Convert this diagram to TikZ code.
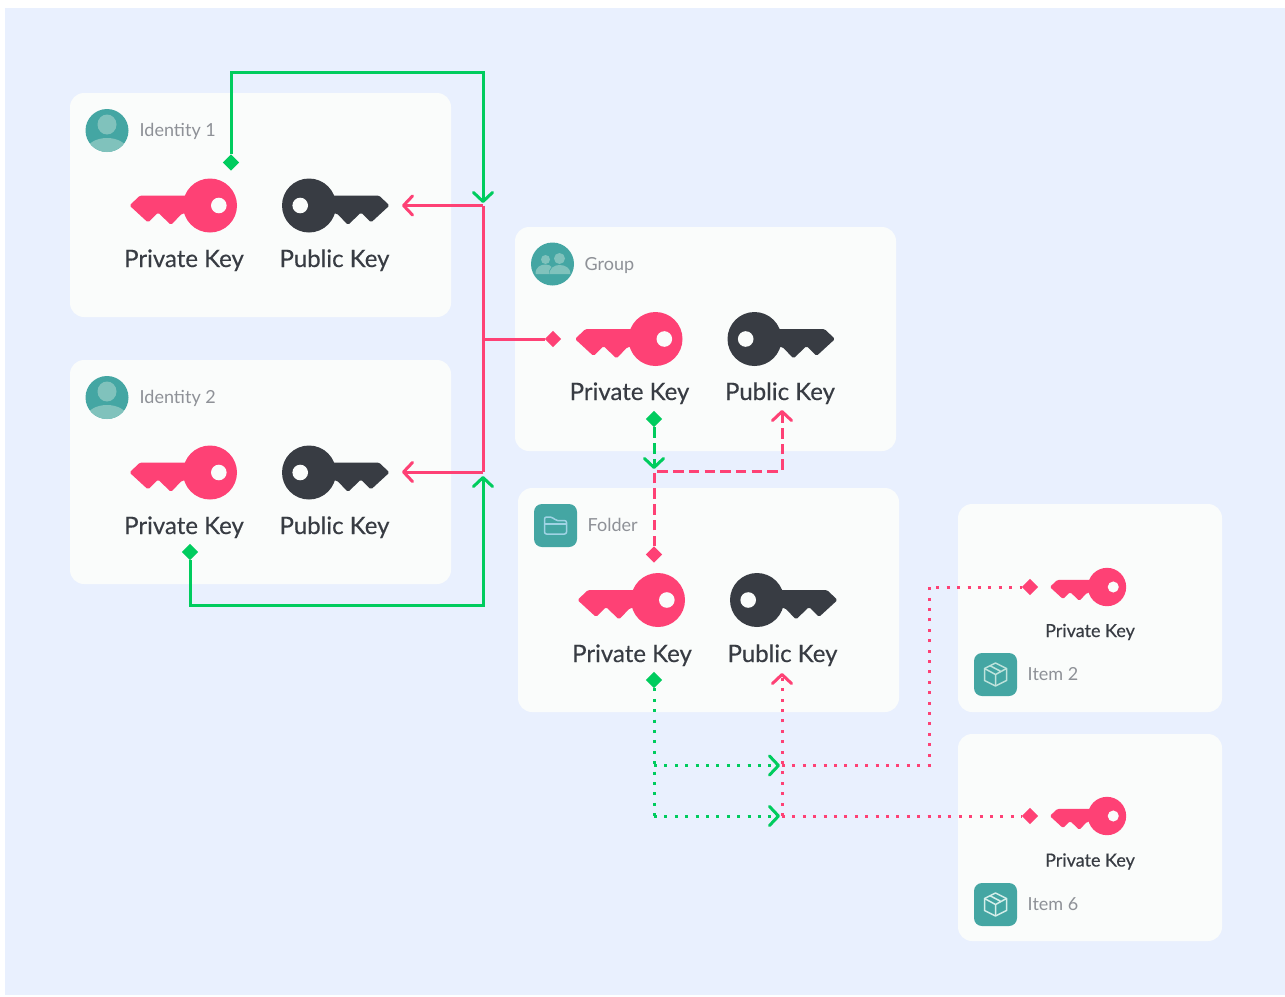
\documentclass[tikz,border=0pt]{standalone}
\usepackage{fontspec}
\setmainfont{Lato}
\newfontfamily\keyfont[FakeBold=0.35]{Lato}
\usetikzlibrary{arrows.meta,shapes.geometric,calc}
\definecolor{pagebg}{HTML}{E9F0FE}
\definecolor{cardbg}{HTML}{FAFCFB}
\definecolor{hotpink}{HTML}{FE4175}
\definecolor{inkdark}{HTML}{383C43}
\definecolor{greyink}{HTML}{8E9197}
\definecolor{teal}{HTML}{44A6A3}
\definecolor{teallight}{HTML}{80C2BC}
\definecolor{signgreen}{HTML}{00CC5E}
\definecolor{iconblue}{HTML}{9FD3E4}
\definecolor{iconpale}{HTML}{BFE3DC}
\definecolor{iconpaler}{HTML}{D5EEEA}
\tikzset{
  card/.style={fill=cardbg,rounded corners=14pt,draw=none},
  keytext/.style={anchor=base,inner sep=0pt,text=inkdark,font=\keyfont\fontsize{24}{26}\selectfont},
  keytextsmall/.style={anchor=base,inner sep=0pt,text=inkdark,font=\keyfont\fontsize{18}{20}\selectfont},
  tagtext/.style={anchor=base west,inner sep=0pt,text=greyink,font=\fontsize{18}{20}\selectfont},
  gemgreen/.style={diamond,aspect=1,fill=signgreen,inner sep=0pt,minimum size=16.5pt},
  gempink/.style={diamond,aspect=1,fill=hotpink,inner sep=0pt,minimum size=16.5pt},
  wire/.style={line width=3pt,line join=miter},
  chev/.style={-{Straight Barb[length=9pt,width=19pt,line width=3pt,round]}},
  greenwire/.style={wire,draw=signgreen},
  pinkwire/.style={wire,draw=hotpink},
  dash1/.style={dash pattern=on 10.5pt off 5.2pt},
  dot1/.style={dash pattern=on 3pt off 7.4pt},
  keyshape/.pic={
    \fill[pic actions,rounded corners=1.5pt] (-80.5,0) -- (-70,-10) -- (-10,-10) -- (-10,8) -- (-28,8) -- (-39,19.5) -- (-52,7) -- (-62,17) -- cycle;
    \fill[pic actions] (0,0) circle[radius=27pt];
    \fill[cardbg] (8.8,0) circle[radius=7.8pt];
  },
  avatarperson/.pic={
    \fill[teal] (0,0) circle[radius=21.5pt];
    \begin{scope}
      \clip (0,0) circle[radius=21.5pt];
      \fill[teallight] (0,-6) ellipse[x radius=9.5pt,y radius=10pt];
      \fill[teallight] (0,21) ellipse[x radius=21pt,y radius=13.5pt];
    \end{scope}
  },
  avatargroup/.pic={
    \fill[teal] (0,0) circle[radius=21.5pt];
    \fill[teallight] (-7,-4.5) circle[radius=4.5pt];
    \fill[teallight] (7,-5.5) circle[radius=5.5pt];
    \fill[teallight] (-17,10) .. controls (-17,3) and (-12,0.5) .. (-7,0.5) .. controls (-4,0.5) and (-2,1.5) .. (-1,3) .. controls (-3,5) and (-4,7) .. (-3,10) -- cycle;
    \fill[teallight] (-3,10) .. controls (-3,4) and (2,1) .. (7,1) .. controls (13,1) and (18,4) .. (18,10) -- cycle;
  },
  foldericon/.pic={
    \fill[teal,rounded corners=8pt] (-21.5,-21.5) rectangle (21.5,21.5);
    \draw[draw=#1,line width=1.5pt,rounded corners=2pt,line join=round] (-11,8.5) -- (-11,-8.5) -- (-3,-8.5) -- (0,-5) -- (11,-5) -- (11,8.5) -- cycle;
    \draw[draw=#1,line width=1.5pt] (-11,-1.5) -- (11,-1.5);
  },
  boxicon/.pic={
    \fill[teal,rounded corners=8pt] (-21.5,-21.5) rectangle (21.5,21.5);
    \draw[draw=#1,line width=1.5pt,line join=round] (0,-11.5) -- (11,-6) -- (11,6) -- (0,11.5) -- (-11,6) -- (-11,-6) -- cycle;
    \draw[draw=#1,line width=1.5pt,line join=round] (-11,-6) -- (0,0) -- (11,-6) (0,0) -- (0,11.5) (-5.5,-8.8) -- (5.5,-3);
  },
}
\begin{document}
\begin{tikzpicture}[x=1pt,y=-1pt]
\useasboundingbox (0,0) rectangle (1285,996);
\fill[white] (0,0) rectangle (1285,996);
\fill[pagebg] (5,8) rectangle (1285,995);

% cards
\node[card,minimum width=381pt,minimum height=224pt,inner sep=0pt] (cardA) at (260.5,205) {};
\node[card,minimum width=381pt,minimum height=224pt,inner sep=0pt] (cardB) at (260.5,472) {};
\node[card,minimum width=381pt,minimum height=224pt,inner sep=0pt] (cardG) at (705.5,339) {};
\node[card,minimum width=381pt,minimum height=224pt,inner sep=0pt] (cardF) at (708.5,600) {};
\node[card,minimum width=264pt,minimum height=208pt,inner sep=0pt] (cardI) at (1090,608) {};
\node[card,minimum width=264pt,minimum height=207pt,inner sep=0pt] (cardJ) at (1090,837.5) {};

% icons and tags
\pic at (107,130.5) {avatarperson};
\pic at (107,397.5) {avatarperson};
\pic at (552.5,264) {avatargroup};
\pic at (555.5,525.5) {foldericon={iconblue}};
\pic at (995.5,674.5) {boxicon={iconpale}};
\pic at (995.5,904.5) {boxicon={iconpaler}};
\node[tagtext] (tagA) at (139.5,136) {Identity 1};
\node[tagtext] (tagB) at (139.5,403) {Identity 2};
\node[tagtext] (tagG) at (584.5,270) {Group};
\node[tagtext] (tagF) at (587.5,531) {Folder};
\node[tagtext] (tagI) at (1027.5,680) {Item 2};
\node[tagtext] (tagJ) at (1027.5,910) {Item 6};

% keys
\pic[fill=hotpink] at (210,205.5) {keyshape};
\pic[fill=inkdark,xscale=-1] at (309,205.5) {keyshape};
\pic[fill=hotpink] at (210,472.5) {keyshape};
\pic[fill=inkdark,xscale=-1] at (309,472.5) {keyshape};
\pic[fill=hotpink] at (655.5,339) {keyshape};
\pic[fill=inkdark,xscale=-1] at (754.5,339) {keyshape};
\pic[fill=hotpink] at (658,600) {keyshape};
\pic[fill=inkdark,xscale=-1] at (757,600) {keyshape};
\pic[fill=hotpink,scale=.71] at (1107,587) {keyshape};
\pic[fill=hotpink,scale=.71] at (1107,816) {keyshape};

\node[keytext] (pkA) at (184,267) {Private Key};
\node[keytext] (ukA) at (334.5,267) {Public Key};
\node[keytext] (pkB) at (184,534) {Private Key};
\node[keytext] (ukB) at (334.5,534) {Public Key};
\node[keytext] (pkG) at (629.5,400) {Private Key};
\node[keytext] (ukG) at (780,400) {Public Key};
\node[keytext] (pkF) at (632,662) {Private Key};
\node[keytext] (ukF) at (782.5,662) {Public Key};
\node[keytextsmall] (pkI) at (1090,637) {Private Key};
\node[keytextsmall] (pkJ) at (1090,866.5) {Private Key};

% connector ends
\node[gemgreen] (gA) at (231,162.5) {};
\node[gemgreen] (gB) at (190,552) {};
\node[gempink] (rG) at (553,339) {};
\node[gemgreen] (gG) at (654,419) {};
\node[gempink] (rF) at (654,554.5) {};
\node[gemgreen] (gF) at (654,680) {};
\node[gempink] (rI) at (1030,587) {};
\node[gempink] (rJ) at (1030,816) {};

\coordinate (topL) at (231,72);
\coordinate (topR) at (483,72);
\coordinate (inA) at (483,203);
\coordinate (botL) at (190,605);
\coordinate (botR) at (483,605);
\coordinate (inB) at (483,476);
\coordinate (busA) at (483,205.5);
\coordinate (busM) at (483,339);
\coordinate (busB) at (483,472);
\coordinate (pubA) at (402,205.5);
\coordinate (pubB) at (402,472);
\coordinate (gDrop) at (654,469);
\coordinate (fBend) at (654,471);
\coordinate (gBend) at (782,471);
\coordinate (pubG) at (782,410);
\coordinate (dotA) at (654,765.5);
\coordinate (dotB) at (654,816);
\coordinate (tipA) at (780,765.5);
\coordinate (tipB) at (780,816);
\coordinate (pubF) at (782,673);
\coordinate (pinkA) at (782,765.5);
\coordinate (pinkB) at (782,816);
\coordinate (turnA) at (929,765.5);
\coordinate (turnB) at (929,587);

% pink solid
\draw[pinkwire,chev] (busA) -- (pubA);
\draw[pinkwire,chev] (busB) -- (pubB);
\draw[pinkwire] (busA) -- (busB);
\draw[pinkwire] (busM) -- (rG);
% green solid
\draw[greenwire,chev] (gA) -- (topL) -- (topR) -- (inA);
\draw[greenwire,chev] (gB) -- (botL) -- (botR) -- (inB);
% dashed
\draw[pinkwire,dash1,chev] (rF) -- (fBend) -- (gBend) -- (pubG);
\draw[greenwire,dash1,chev] (gG) -- (gDrop);
% dotted
\draw[pinkwire,dot1,chev] (pinkB) -- (pubF);
\draw[pinkwire,dot1] (pinkA) -- (turnA) -- (turnB) -- (rI);
\draw[pinkwire,dot1] (pinkB) -- (rJ);
\draw[greenwire,dot1] (gF) -- (dotB);
\draw[greenwire,dot1,chev] (dotA) -- (tipA);
\draw[greenwire,dot1,chev] (dotB) -- (tipB);
\end{tikzpicture}
\end{document}
